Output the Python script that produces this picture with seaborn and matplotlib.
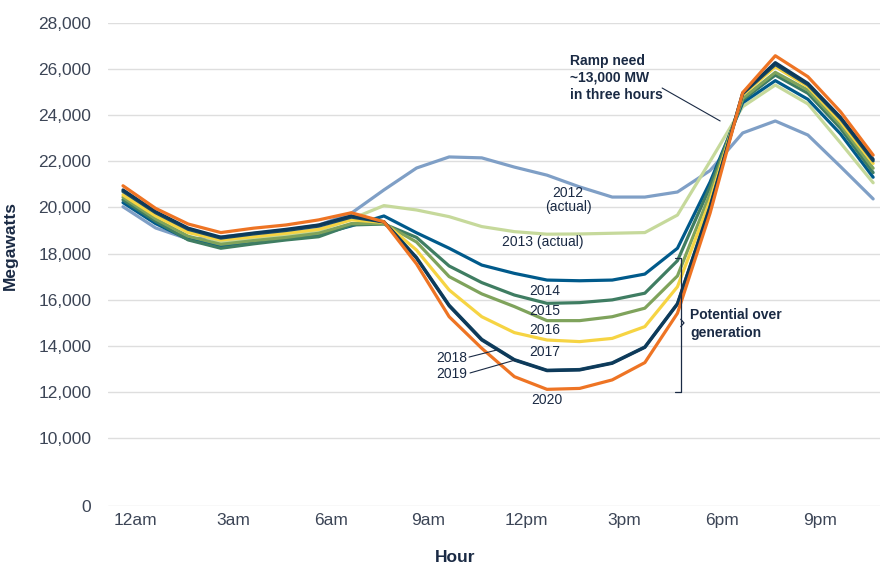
import numpy as np
import pandas as pd
import matplotlib
matplotlib.use("Agg")
import matplotlib.pyplot as plt
import matplotlib.transforms as mtransforms
import seaborn as sns

# ---------------------
# Data
# ---------------------
hours = list(range(24))
years = ["2012", "2013", "2014", "2015", "2016", "2017", "2018", "2019", "2020"]

mw_2012 = [20030, 19110, 18630, 18720, 18870, 19020, 19230, 19750, 20760, 21710, 22190, 22150,
           21750, 21400, 20890, 20450, 20450, 20670, 21600, 23230, 23750, 23140, 21770, 20370]
mw_2013 = [20660, 19700, 19000, 18480, 18650, 18800, 19000, 19500, 20080, 19890, 19600, 19170,
           18950, 18840, 18850, 18880, 18910, 19670, 22000, 24370, 25310, 24490, 22800, 21070]
mw_2014 = [20210, 19300, 18620, 18330, 18530, 18660, 18820, 19200, 19630, 18900, 18230, 17500,
           17140, 16850, 16820, 16850, 17110, 18230, 21100, 24540, 25500, 24690, 23190, 21310]
mw_2015 = [20330, 19400, 18590, 18230, 18420, 18590, 18730, 19240, 19280, 18700, 17460, 16740,
           16200, 15840, 15870, 15990, 16280, 17690, 20900, 24660, 25740, 24950, 23430, 21510]
mw_2016 = [20440, 19500, 18750, 18400, 18560, 18700, 18880, 19300, 19300, 18500, 17000, 16250,
           15700, 15090, 15090, 15260, 15630, 17030, 20600, 24730, 25860, 25090, 23580, 21700]
mw_2017 = [20540, 19630, 18910, 18590, 18730, 18880, 19050, 19460, 19350, 18150, 16420, 15260,
           14570, 14250, 14180, 14320, 14830, 16560, 20300, 24880, 26100, 25240, 23720, 21910]
mw_2018 = [20700, 19770, 19050, 18670, 18850, 19000, 19190, 19580, 19370, 17830, 15760, 14280,
           13400, 12940, 12970, 13260, 13950, 15830, 20050, 24930, 26200, 25320, 23850, 22020]
mw_2019 = [20760, 19820, 19100, 18710, 18890, 19050, 19240, 19630, 19380, 17800, 15730, 14250,
           13380, 12920, 12950, 13240, 13930, 15810, 20000, 24960, 26280, 25380, 23910, 22090]
mw_2020 = [20940, 19960, 19280, 18910, 19100, 19240, 19460, 19770, 19380, 17550, 15260, 13890,
           12660, 12110, 12150, 12520, 13270, 15410, 19750, 24980, 26580, 25670, 24150, 22270]

series = [mw_2012, mw_2013, mw_2014, mw_2015, mw_2016, mw_2017, mw_2018, mw_2019, mw_2020]

x_ticks = [0, 3, 6, 9, 12, 15, 18, 21]
x_labels = ["12am", "3am", "6am", "9am", "12pm", "3pm", "6pm", "9pm"]
y_ticks = [10000, 12000, 14000, 16000, 18000, 20000, 22000, 24000, 26000, 28000]

palette = {
    "2012": "#7f9fc6",
    "2013": "#c6d99b",
    "2014": "#005a8b",
    "2015": "#3f7d62",
    "2016": "#7fa35c",
    "2017": "#f6d443",
    "2018": "#1b4a68",
    "2019": "#0d3a5a",
    "2020": "#ee7424",
}

df = pd.DataFrame({
    "hour": hours * len(years),
    "mw": np.concatenate(series),
    "year": np.repeat(years, len(hours)),
})

# ---------------------
# Plot
# ---------------------
sns.set_style("white")
plt.rcParams["font.family"] = ["Liberation Sans", "DejaVu Sans"]
text_col = "#1a2a44"
tick_col = "#3c4556"

fig = plt.figure(figsize=(8.81, 5.67), dpi=100)
ax = fig.add_axes([108 / 881, 61 / 567, 772 / 881, 483 / 567])

# the y axis is broken: "0" sits just below 10,000
y_zero = 7050
for yv in [y_zero] + y_ticks:
    ax.axhline(yv, color="#dedede", linewidth=1.0, zorder=0)

sns.lineplot(data=df, x="hour", y="mw", hue="year", hue_order=years,
             palette=palette, linewidth=2.3, legend=False, ax=ax)

ax.set_xlim(-0.46, 23.21)
ax.set_ylim(y_zero, 28000)
ax.set_yticks([y_zero] + y_ticks)
ax.set_yticklabels(["0"] + [f"{v:,}" for v in y_ticks])
ax.set_xticks(x_ticks)
ax.set_xticklabels(x_labels)
ax.tick_params(axis="both", length=0, labelsize=12.5, labelcolor=tick_col)
ax.tick_params(axis="y", pad=12)
ax.tick_params(axis="x", pad=5)
offset = mtransforms.ScaledTranslation(0.12, 0, fig.dpi_scale_trans)
for lbl in ax.get_xticklabels():
    lbl.set_transform(lbl.get_transform() + offset)
for s in ax.spines.values():
    s.set_visible(False)

ax.set_xlabel("Hour", fontsize=12.5, fontweight="bold", color=text_col)
ax.set_ylabel("Megawatts", fontsize=12.5, fontweight="bold", color=text_col)
ax.xaxis.set_label_coords(0.449, -0.092)
ax.yaxis.set_label_coords(-0.117, 0.54)

# ---------------------
# Annotations
# ---------------------
lab = dict(fontsize=10, color=text_col, ha="center", va="center")
ax.text(13.65, 20320, "2012\n(actual)", linespacing=0.95, **lab)
ax.text(12.88, 18500, "2013 (actual)", **lab)
ax.text(12.94, 16380, "2014", **lab)
ax.text(12.94, 15510, "2015", **lab)
ax.text(12.94, 14690, "2016", **lab)
ax.text(12.94, 13730, "2017", **lab)
ax.text(13.0, 11650, "2020", **lab)
ax.text(10.55, 13470, "2018", fontsize=10, color=text_col, ha="right", va="center")
ax.text(10.55, 12780, "2019", fontsize=10, color=text_col, ha="right", va="center")
ax.plot([10.61, 11.47], [13510, 13820], color=text_col, linewidth=0.8)
ax.plot([10.64, 12.02], [12820, 13380], color=text_col, linewidth=0.8)

ax.text(13.71, 25615, "Ramp need\n~13,000 MW\nin three hours", fontsize=10,
        fontweight="bold", color=text_col, ha="left", va="center", linespacing=1.3)
ax.plot([16.53, 18.31], [25180, 23750], color=text_col, linewidth=0.8)

# bracket for over generation
bx = 17.1
ax.plot([bx - 0.17, bx, bx, bx - 0.17], [17810, 17810, 12000, 12000],
        color=text_col, linewidth=0.9)
ax.plot([bx, bx + 0.1, bx], [15150, 14990, 14830], color=text_col, linewidth=0.9)
ax.text(17.39, 14950, "Potential over\ngeneration", fontsize=10, fontweight="bold",
        color=text_col, ha="left", va="center", linespacing=1.3)

fig.savefig("out.png", dpi=100)
